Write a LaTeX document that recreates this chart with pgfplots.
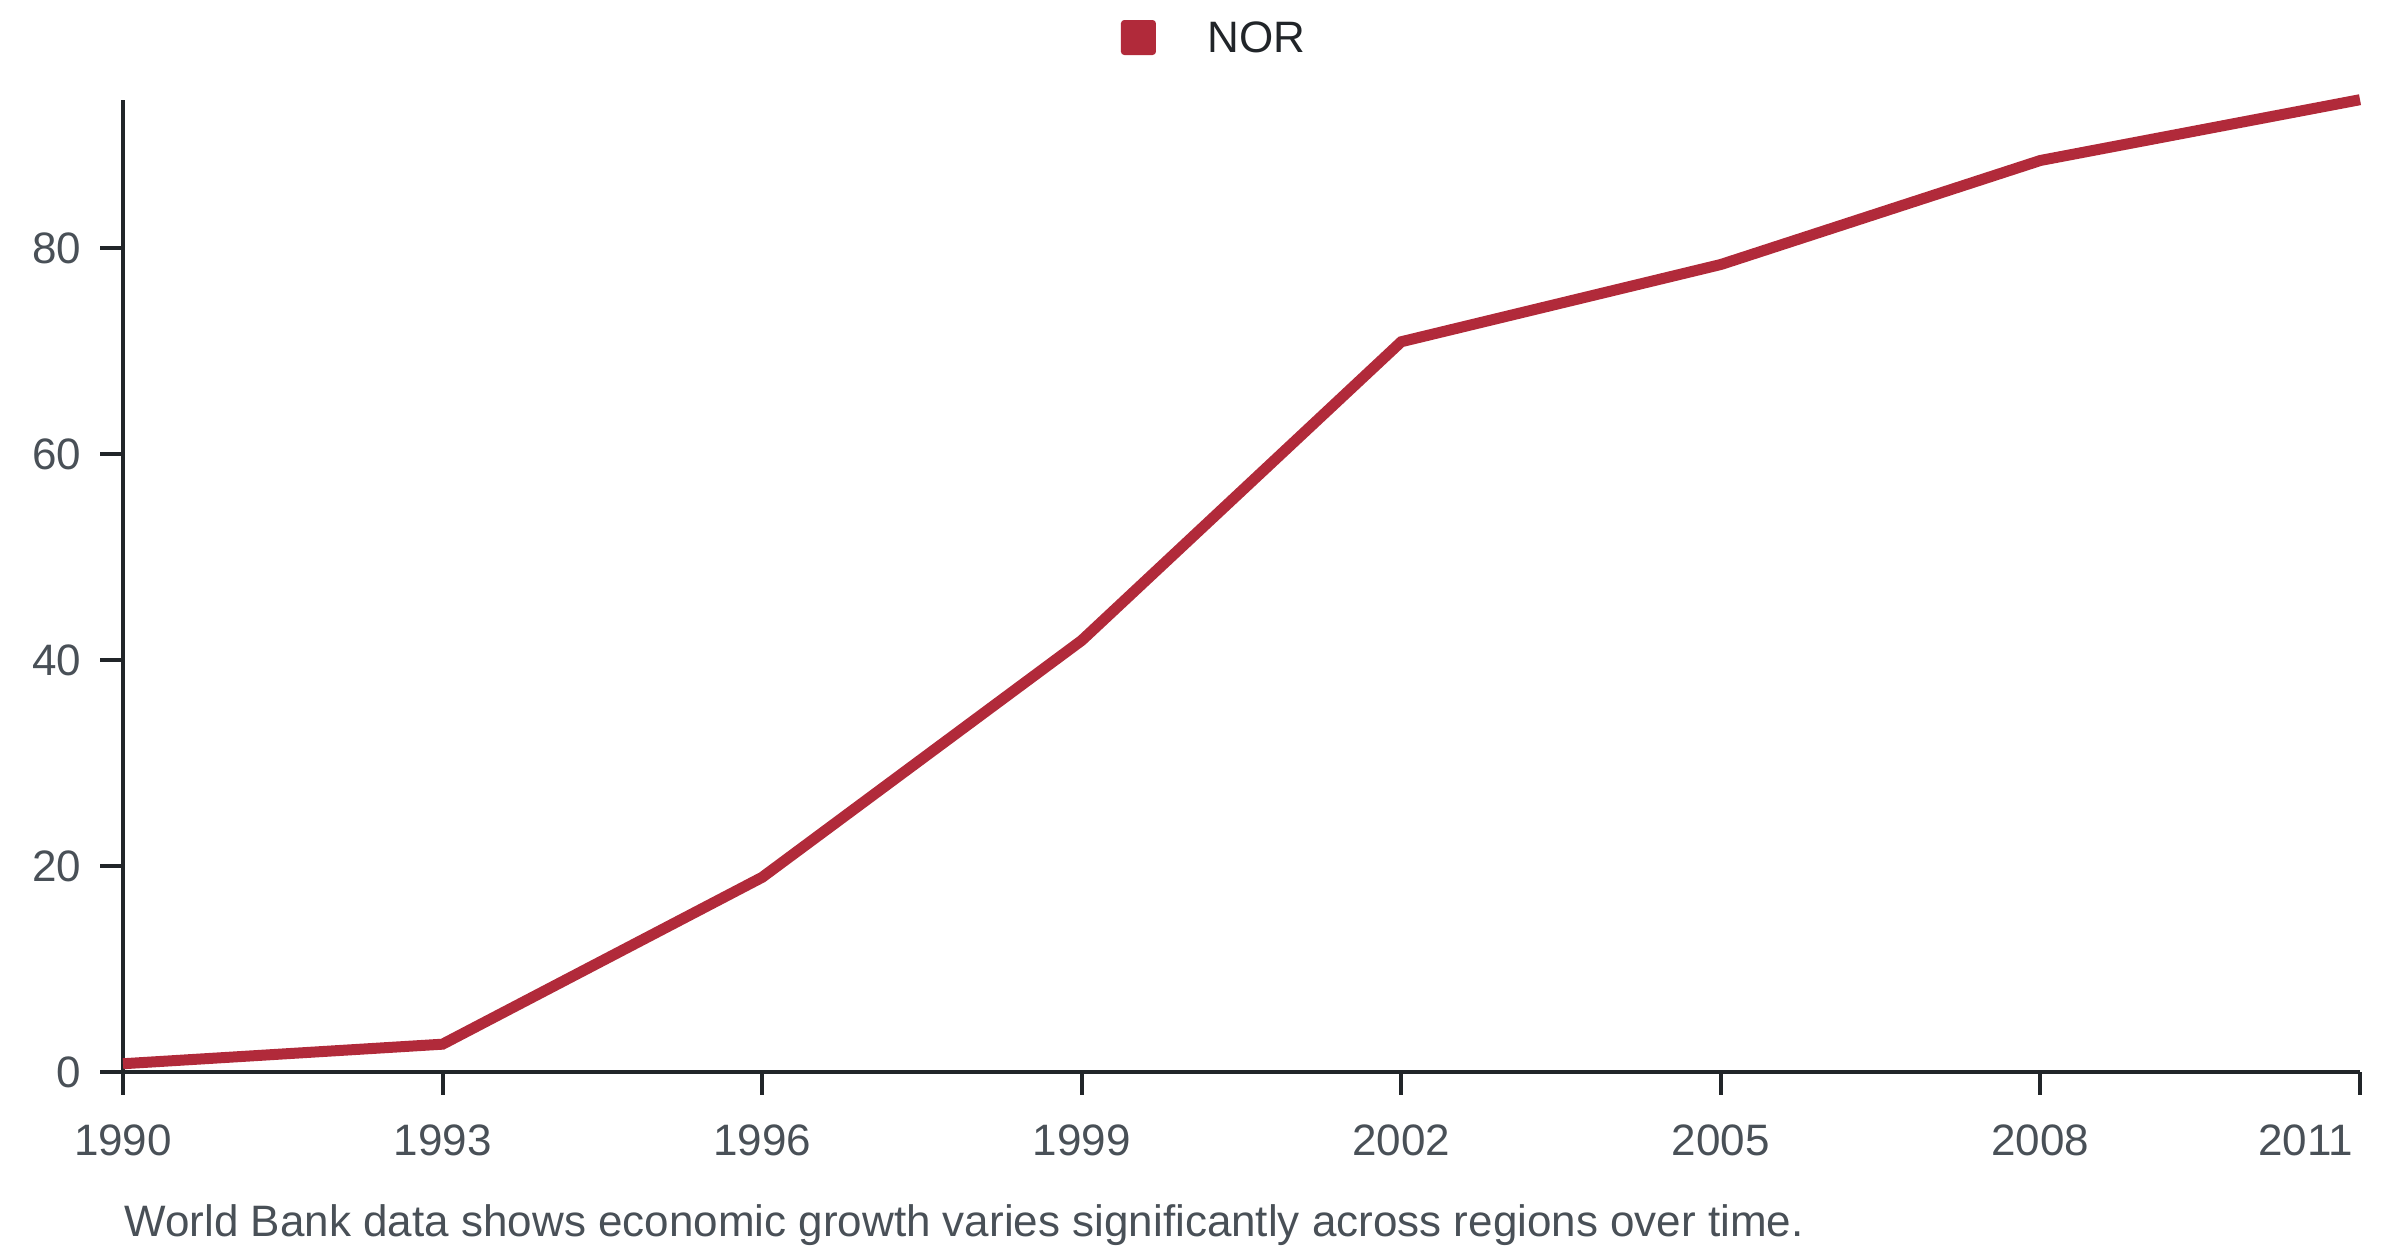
\documentclass[border=0pt]{standalone}
\usepackage{fontspec}
\setmainfont{Liberation Sans}
\usepackage{pgfplots}
\pgfplotsset{compat=1.18}
\definecolor{nor}{HTML}{B12A3A}
\definecolor{axisc}{HTML}{212529}
\definecolor{tickc}{HTML}{495057}
\begin{document}
\fontsize{13.2}{15.8}\selectfont
\begin{tikzpicture}
\useasboundingbox (-36.9pt,-55.2pt) rectangle (683.1pt,321.6pt);
\begin{axis}[
  at={(0,0)}, anchor=south west,
  scale only axis, width=671.1pt, height=291.6pt,
  xmin=1990, xmax=2011, ymin=0, ymax=94.37,
  axis x line=bottom, axis y line=left,
  axis line style={-, axisc, line width=1.2pt},
  tick align=outside, major tick length=6.9pt,
  tick style={axisc, line width=1.2pt},
  xtick={1990,1993,1996,1999,2002,2005,2008,2011},
  xticklabels={1990,1993,1996,1999,2002,2005,2008,\makebox[0pt][r]{2011\hspace{2.1pt}}},
  ytick={0,20,40,60,80},
  /pgf/number format/assume math mode=true,
  xticklabel style={anchor=base, inner sep=0pt, yshift=-18.3pt, text=tickc, font=\fontsize{13.2}{15.8}\selectfont},
  yticklabel style={anchor=east, inner sep=0pt, xshift=-5.4pt, text=tickc, font=\fontsize{13.2}{15.8}\selectfont},
  clip=false,
  legend style={at={(0.4461,1.0823)}, anchor=north west, draw=none, fill=none,
    inner sep=0pt, outer sep=0pt, column sep=15.6pt, nodes={inner sep=0pt},
    font=\fontsize{13.2}{15.8}\selectfont, text=axisc},
  legend image code/.code={\path[fill=nor, draw=none, line width=0pt, rounded corners=1pt] (0pt,-4.35pt) rectangle (10.5pt,6.15pt);},
]
\addplot[nor, line width=3.3pt] coordinates {
  (1990,0.8) (1993,2.7) (1996,18.9) (1999,41.9) (2002,70.9) (2005,78.4) (2008,88.5) (2011,94.4)
};
\addlegendentry{NOR}
\end{axis}
\node[anchor=base west, inner sep=0pt, text=tickc] at (0.3pt,-49.5pt)
  {World Bank data shows economic growth varies significantly across regions over time.};
\end{tikzpicture}
\end{document}
